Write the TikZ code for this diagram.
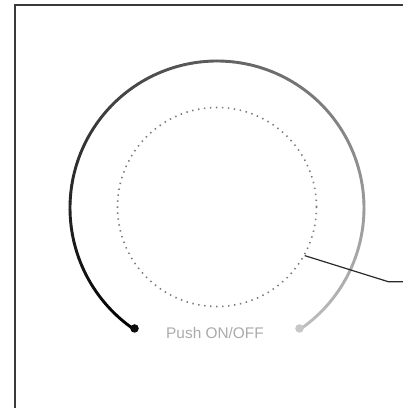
\documentclass[tikz,border=0pt]{standalone}
\usepackage{fontspec}
\setmainfont{Liberation Sans}
\usetikzlibrary{calc}
\definecolor{framec}{HTML}{3A3A3A}
\definecolor{arcend}{HTML}{BDBDBD}
\definecolor{dotc}{HTML}{7A7A7A}
\definecolor{textc}{HTML}{ABABAB}
\definecolor{leadc}{HTML}{2A2A2A}
\begin{document}
\begin{tikzpicture}[x=1pt,y=1pt,
  framestyle/.style={draw=framec,line width=2.2pt},
  arcseg/.style={line width=2.9pt,line cap=round},
  innerring/.style={circle,draw=dotc,line width=1.6pt,dash pattern=on 1.4pt off 4.6pt,minimum size=199pt,inner sep=0pt},
  leader/.style={draw=leadc,line width=1.2pt},
  labelstyle/.style={text=textc,font=\fontsize{15.4}{16}\selectfont,inner sep=0pt}]
\useasboundingbox (0,0) rectangle (403,408);
\fill[white] (0,0) rectangle (403,408);
% frame
\draw[framestyle] (15,0) -- (15,403) -- (403,403);
% center
\coordinate (c) at (217,200);
% outer gradient arc
\foreach \i in {0,...,89}{
  \pgfmathsetmacro{\aa}{235.6-\i*3.235556}
  \pgfmathsetmacro{\ab}{\aa-3.235556}
  \pgfmathsetmacro{\p}{\i*1.123596}
  \draw[arcseg,draw=arcend!\p!black] ($(c)+(\aa:147)$) arc[start angle=\aa,end angle=\ab,radius=147];
}
\node[circle,fill=black!95,inner sep=0pt,minimum size=8.5pt] (ldot) at ($(c)+(235.6:146)$) {};
\node[circle,fill=arcend!85!white,inner sep=0pt,minimum size=8.5pt] (rdot) at ($(c)+(304.4:146)$) {};
% inner dotted ring
\node[innerring] (ring) at (217,201) {};
% leader
\coordinate (lbend) at (388.3,126.3);
\coordinate (lend) at (403,126.3);
\draw[leader] (ring.-29) -- (lbend) -- (lend);
% label
\node[labelstyle] (lbl) at (215,75.5) {Push ON/OFF};
\end{tikzpicture}
\end{document}
